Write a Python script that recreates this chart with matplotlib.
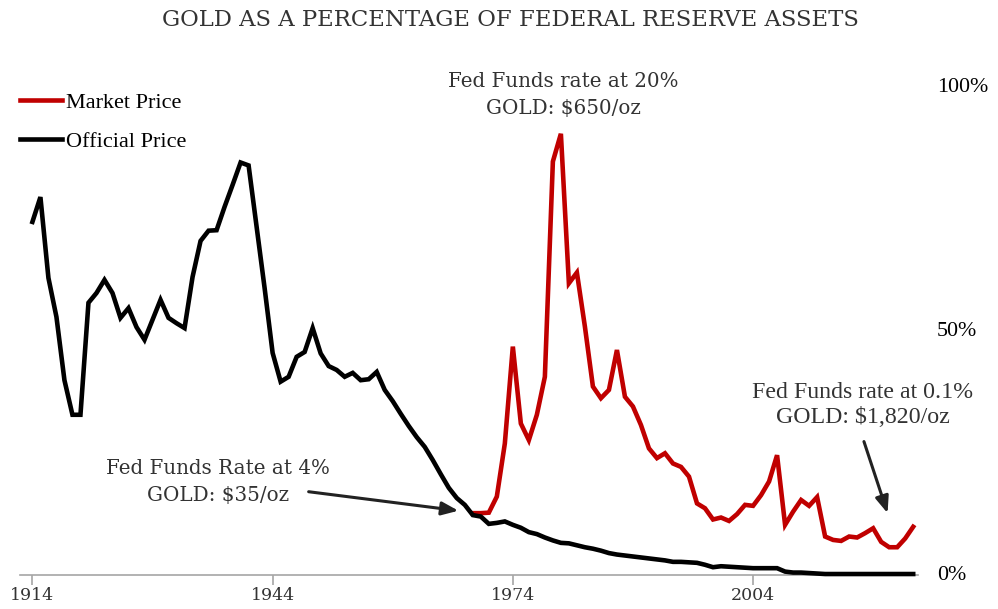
import numpy as np
import matplotlib
matplotlib.use("Agg")
import matplotlib.pyplot as plt

# ---------------- data ----------------
official_years = list(range(1914, 2025))
official_pct = [
    72.5, 77.6, 61.0, 53.0, 40.0, 32.9, 32.9, 55.9, 57.9, 60.6,   # 1914-1923
    57.9, 52.8, 54.8, 50.9, 48.3, 52.4, 56.5, 52.8, 51.7, 50.7,   # 1924-1933
    61.2, 68.6, 70.7, 70.8, 75.6, 80.1, 84.7, 84.1, 71.5, 58.9,   # 1934-1943
    45.6, 39.7, 40.7, 44.8, 45.8, 50.7, 45.5, 42.9, 42.1, 40.7,   # 1944-1953
    41.5, 40.0, 40.2, 41.7, 38.0, 35.7, 33.1, 30.6, 28.3, 26.3,   # 1954-1963
    23.6, 20.7, 17.9, 15.8, 14.4, 12.3, 12.0, 10.5, 10.7, 11.0,   # 1964-1973
    10.3, 9.7, 8.8, 8.4, 7.7, 7.1, 6.6, 6.5, 6.1, 5.7,            # 1974-1983
    5.4, 5.0, 4.5, 4.2, 4.0, 3.8, 3.6, 3.4, 3.2, 3.0,             # 1984-1993
    2.7, 2.7, 2.6, 2.5, 2.1, 1.6, 1.8, 1.7, 1.6, 1.5,             # 1994-2003
    1.4, 1.4, 1.4, 1.4, 0.7, 0.5, 0.5, 0.4, 0.3, 0.2,             # 2004-2013
    0.2, 0.2, 0.2, 0.2, 0.2, 0.2, 0.2, 0.2, 0.2, 0.2, 0.2,        # 2014-2024
]
market_years = list(range(1969, 2025))
market_pct = [
    12.7, 12.7, 12.8, 16.1, 27.0,                                 # 1969-1973
    46.9, 31.1, 27.7, 32.9, 40.7, 84.9, 90.6, 59.9, 62.1, 51.0,   # 1974-1983
    38.7, 36.3, 38.0, 46.2, 36.6, 34.6, 30.8, 26.0, 24.0, 25.0,   # 1984-1993
    22.9, 22.2, 20.2, 14.7, 13.7, 11.4, 11.8, 11.1, 12.5, 14.4,   # 1994-2003
    14.2, 16.4, 19.2, 24.6, 10.3, 13.0, 15.4, 14.2, 16.0, 7.9,    # 2004-2013
    7.2, 7.0, 7.9, 7.7, 8.6, 9.6, 6.8, 5.7, 5.7, 7.5, 9.9,        # 2014-2024
]
x_ticks = [1914, 1944, 1974, 2004]
y_ticks = [0, 50, 100]
y_tick_labels = ["0%", "50%", "100%"]

title = "GOLD AS A PERCENTAGE OF FEDERAL RESERVE ASSETS"
ann_high = "Fed Funds rate at 20%\nGOLD: $650/oz"
ann_mid = "Fed Funds Rate at 4%\nGOLD: $35/oz"
ann_low = "Fed Funds rate at 0.1%\nGOLD: $1,820/oz"

RED = "#C00000"
BLACK = "#000000"
GREY_TXT = "#333333"
AXIS_GREY = "#A6A6A6"

W, H = 998, 609
fig = plt.figure(figsize=(W / 100, H / 100), dpi=100)
fig.patch.set_facecolor("white")

def fx(px):
    return px / W

def fy(py):
    return 1 - py / H

ax = fig.add_axes([fx(20), fy(575), fx(918) - fx(20), fy(88) - fy(575)])
ax.set_xlim(1912.45, 2024.6)
ax.set_ylim(0, 100)

l_mkt, = ax.plot(market_years, market_pct, color=RED, lw=3.3,
                 solid_joinstyle="miter", clip_on=False, zorder=3, label="Market Price")
l_off, = ax.plot(official_years, official_pct, color=BLACK, lw=3.3,
                 solid_joinstyle="miter", clip_on=False, zorder=4, label="Official Price")

for s in ["top", "left", "right"]:
    ax.spines[s].set_visible(False)
ax.spines["bottom"].set_color(AXIS_GREY)
ax.spines["bottom"].set_linewidth(1.2)
ax.set_xticks(x_ticks)
ax.set_xticklabels([str(t) for t in x_ticks], fontfamily="DejaVu Serif",
                   fontsize=12.5, color=GREY_TXT)
ax.tick_params(axis="x", direction="out", length=7, width=1.2, color=AXIS_GREY, pad=1.5)
ax.set_yticks([])

# right-hand percentage labels
for v, lab in zip(y_ticks, y_tick_labels):
    ax.text(1.0 + (937 - 918) / (918 - 20), v, lab, transform=ax.get_yaxis_transform(),
            ha="left", va="center", fontfamily="Liberation Serif", fontsize=15.8,
            color=BLACK, clip_on=False)

# title
fig.text(fx(510), fy(20), title, ha="center", va="center",
         fontfamily="DejaVu Serif", fontsize=16.4, color=GREY_TXT)

# legend
leg = ax.legend(handles=[l_mkt, l_off], loc="upper left",
                bbox_to_anchor=(fx(20), fy(92)), bbox_transform=fig.transFigure,
                frameon=False, prop={"family": "Liberation Serif", "size": 16},
                handlelength=1.9, handletextpad=0.18, labelspacing=0.83,
                borderpad=0, borderaxespad=0)

# annotations
ax.text(1980.3, 98.6, ann_high, ha="center", va="center", multialignment="center",
        fontfamily="DejaVu Serif", fontsize=14.3, color=GREY_TXT, linespacing=1.55,
        clip_on=False)
ax.text(1937.2, 19.1, ann_mid, ha="center", va="center", multialignment="center",
        fontfamily="DejaVu Serif", fontsize=14.3, color=GREY_TXT, linespacing=1.55,
        clip_on=False)
ax.text(2017.7, 34.9, ann_low, ha="center", va="center", multialignment="center",
        fontfamily="Liberation Serif", fontsize=17.2, color=GREY_TXT, linespacing=1.3,
        clip_on=False)

arrow_kw = dict(arrowstyle="-|>,head_length=1.0,head_width=0.4", color="#222222",
                lw=2.2, shrinkA=0, shrinkB=0)
ax.annotate("", xy=(1967.2, 13.2), xytext=(1948.5, 17.1), arrowprops=arrow_kw,
            annotation_clip=False)
ax.annotate("", xy=(2020.8, 12.7), xytext=(2017.85, 27.4), arrowprops=arrow_kw,
            annotation_clip=False)

fig.savefig("out.png", dpi=100, facecolor="white")
